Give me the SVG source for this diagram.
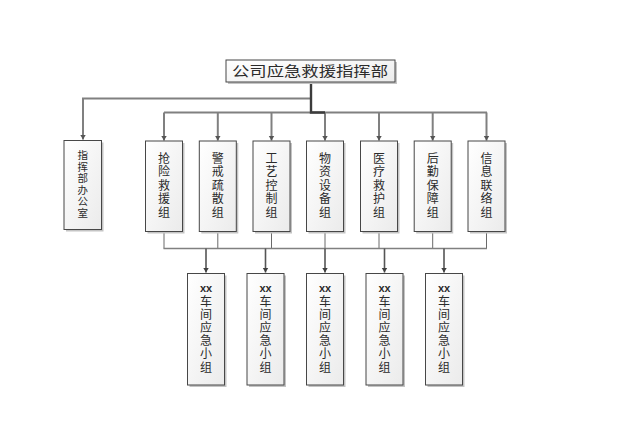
<svg xmlns="http://www.w3.org/2000/svg" width="626" height="422" viewBox="0 0 626 422">
<defs>
<linearGradient id="fillg" x1="0" y1="0" x2="1" y2="1">
<stop offset="0" stop-color="#ffffff"/>
<stop offset="1" stop-color="#ebebeb"/>
</linearGradient>
<marker id="arr" markerUnits="userSpaceOnUse" markerWidth="6" markerHeight="7" refX="5" refY="3" orient="auto">
<path d="M0,0 L5,3 L0,6 z" fill="#404040"/>
</marker>
<marker id="arrg" markerUnits="userSpaceOnUse" markerWidth="6" markerHeight="7" refX="5" refY="3" orient="auto">
<path d="M0,0 L5,3 L0,6 z" fill="#555555"/>
</marker>
</defs>
<style>
.sh{fill:#c4c4c4;}
.bx{fill:url(#fillg);stroke:#474747;stroke-width:1;}
.t{font-family:"Liberation Sans","Noto Sans CJK SC","Noto Sans CJK JP",sans-serif;fill:#2b2b2b;text-anchor:middle;}
.g{font-size:12px;}
.o{font-size:10.5px;}
.xx{font-family:"Liberation Sans",Arial,sans-serif;font-weight:bold;font-size:11px;fill:#2b2b2b;text-anchor:middle;}
.ln{fill:none;stroke:#808080;stroke-width:2;}
.lt{fill:none;stroke:#6a6a6a;stroke-width:1;}
.la{fill:none;stroke:#555555;stroke-width:1.6;}
.tk{fill:none;stroke:#3c3c3c;stroke-width:2.4;}
</style>
<rect width="626" height="422" fill="#ffffff"/>

<g id="connectors">
<path class="ln" d="M311,98.5 H83 V139.5" marker-end="url(#arrg)"/>
<path class="ln" d="M164,112.5 H487"/>
<path class="ln" d="M164,112.5 V140.5" marker-end="url(#arrg)"/>
<path class="ln" d="M217.8,112.5 V140.5" marker-end="url(#arrg)"/>
<path class="ln" d="M271.5,112.5 V140.5" marker-end="url(#arrg)"/>
<path class="ln" d="M325,112.5 V140.5" marker-end="url(#arrg)"/>
<path class="ln" d="M379,112.5 V140.5" marker-end="url(#arrg)"/>
<path class="ln" d="M432.7,112.5 V140.5" marker-end="url(#arrg)"/>
<path class="ln" d="M486.5,112.5 V140.5" marker-end="url(#arrg)"/>
<path class="tk" d="M311,82 V112.5 H325"/>
<path class="lt" d="M164,231.5 V248.5 M217.8,231.5 V248.5 M271.5,231.5 V248.5 M325,231.5 V248.5 M379,231.5 V248.5 M432.7,231.5 V248.5 M486.5,231.5 V248.5"/>
<path class="ln" d="M163.5,248.5 H487" style="stroke-width:1.5"/>
<path class="la" d="M206,248.5 V272.5" marker-end="url(#arr)"/>
<path class="la" d="M265.5,248.5 V272.5" marker-end="url(#arr)"/>
<path class="la" d="M325,248.5 V272.5" marker-end="url(#arr)"/>
<path class="la" d="M384.5,248.5 V272.5" marker-end="url(#arr)"/>
<path class="la" d="M444,248.5 V272.5" marker-end="url(#arr)"/>
</g>

<g id="top">
<rect class="sh" x="228" y="62" width="169" height="22"/>
<rect class="bx" x="226" y="60" width="169" height="22"/>
<text class="t" x="232" y="76" style="font-size:14px;text-anchor:start" textLength="156" lengthAdjust="spacingAndGlyphs">公司应急救援指挥部</text>
</g>

<g id="office">
<rect class="sh" x="66" y="142.5" width="37.5" height="89"/>
<rect class="bx" x="64" y="140.5" width="37.5" height="89"/>
<text class="t o"><tspan x="82.8" y="159">指</tspan><tspan x="82.8" y="170.5">挥</tspan><tspan x="82.8" y="182">部</tspan><tspan x="82.8" y="193.5">办</tspan><tspan x="82.8" y="205">公</tspan><tspan x="82.8" y="216.5">室</tspan></text>
</g>

<g id="g1">
<rect class="sh" x="147.5" y="143" width="37" height="90.5"/>
<rect class="bx" x="145.5" y="141" width="37" height="90.5"/>
<text class="t g"><tspan x="164" y="162.8">抢</tspan><tspan x="164" y="176.3">险</tspan><tspan x="164" y="189.8">救</tspan><tspan x="164" y="203.3">援</tspan><tspan x="164" y="216.8">组</tspan></text>
</g>
<g id="g2">
<rect class="sh" x="201.3" y="143" width="37" height="90.5"/>
<rect class="bx" x="199.3" y="141" width="37" height="90.5"/>
<text class="t g"><tspan x="217.8" y="162.8">警</tspan><tspan x="217.8" y="176.3">戒</tspan><tspan x="217.8" y="189.8">疏</tspan><tspan x="217.8" y="203.3">散</tspan><tspan x="217.8" y="216.8">组</tspan></text>
</g>
<g id="g3">
<rect class="sh" x="255" y="143" width="37" height="90.5"/>
<rect class="bx" x="253" y="141" width="37" height="90.5"/>
<text class="t g"><tspan x="271.5" y="162.8">工</tspan><tspan x="271.5" y="176.3">艺</tspan><tspan x="271.5" y="189.8">控</tspan><tspan x="271.5" y="203.3">制</tspan><tspan x="271.5" y="216.8">组</tspan></text>
</g>
<g id="g4">
<rect class="sh" x="308.5" y="143" width="37" height="90.5"/>
<rect class="bx" x="306.5" y="141" width="37" height="90.5"/>
<text class="t g"><tspan x="325" y="162.8">物</tspan><tspan x="325" y="176.3">资</tspan><tspan x="325" y="189.8">设</tspan><tspan x="325" y="203.3">备</tspan><tspan x="325" y="216.8">组</tspan></text>
</g>
<g id="g5">
<rect class="sh" x="362.5" y="143" width="37" height="90.5"/>
<rect class="bx" x="360.5" y="141" width="37" height="90.5"/>
<text class="t g"><tspan x="379" y="162.8">医</tspan><tspan x="379" y="176.3">疗</tspan><tspan x="379" y="189.8">救</tspan><tspan x="379" y="203.3">护</tspan><tspan x="379" y="216.8">组</tspan></text>
</g>
<g id="g6">
<rect class="sh" x="416.2" y="143" width="37" height="90.5"/>
<rect class="bx" x="414.2" y="141" width="37" height="90.5"/>
<text class="t g"><tspan x="432.7" y="162.8">后</tspan><tspan x="432.7" y="176.3">勤</tspan><tspan x="432.7" y="189.8">保</tspan><tspan x="432.7" y="203.3">障</tspan><tspan x="432.7" y="216.8">组</tspan></text>
</g>
<g id="g7">
<rect class="sh" x="470" y="143" width="37" height="90.5"/>
<rect class="bx" x="468" y="141" width="37" height="90.5"/>
<text class="t g"><tspan x="486.5" y="162.8">信</tspan><tspan x="486.5" y="176.3">息</tspan><tspan x="486.5" y="189.8">联</tspan><tspan x="486.5" y="203.3">络</tspan><tspan x="486.5" y="216.8">组</tspan></text>
</g>

<g id="w1">
<rect class="sh" x="189.5" y="275.5" width="37" height="111.5"/>
<rect class="bx" x="187.5" y="273.5" width="37" height="111.5"/>
<text class="xx" x="206" y="291.6">xx</text>
<text class="t g"><tspan x="206" y="305.8">车</tspan><tspan x="206" y="318.9">间</tspan><tspan x="206" y="332.1">应</tspan><tspan x="206" y="345.2">急</tspan><tspan x="206" y="358.4">小</tspan><tspan x="206" y="371.5">组</tspan></text>
</g>
<g id="w2">
<rect class="sh" x="249" y="275.5" width="37" height="111.5"/>
<rect class="bx" x="247" y="273.5" width="37" height="111.5"/>
<text class="xx" x="265.5" y="291.6">xx</text>
<text class="t g"><tspan x="265.5" y="305.8">车</tspan><tspan x="265.5" y="318.9">间</tspan><tspan x="265.5" y="332.1">应</tspan><tspan x="265.5" y="345.2">急</tspan><tspan x="265.5" y="358.4">小</tspan><tspan x="265.5" y="371.5">组</tspan></text>
</g>
<g id="w3">
<rect class="sh" x="308.5" y="275.5" width="37" height="111.5"/>
<rect class="bx" x="306.5" y="273.5" width="37" height="111.5"/>
<text class="xx" x="325" y="291.6">xx</text>
<text class="t g"><tspan x="325" y="305.8">车</tspan><tspan x="325" y="318.9">间</tspan><tspan x="325" y="332.1">应</tspan><tspan x="325" y="345.2">急</tspan><tspan x="325" y="358.4">小</tspan><tspan x="325" y="371.5">组</tspan></text>
</g>
<g id="w4">
<rect class="sh" x="368" y="275.5" width="37" height="111.5"/>
<rect class="bx" x="366" y="273.5" width="37" height="111.5"/>
<text class="xx" x="384.5" y="291.6">xx</text>
<text class="t g"><tspan x="384.5" y="305.8">车</tspan><tspan x="384.5" y="318.9">间</tspan><tspan x="384.5" y="332.1">应</tspan><tspan x="384.5" y="345.2">急</tspan><tspan x="384.5" y="358.4">小</tspan><tspan x="384.5" y="371.5">组</tspan></text>
</g>
<g id="w5">
<rect class="sh" x="427.5" y="275.5" width="37" height="111.5"/>
<rect class="bx" x="425.5" y="273.5" width="37" height="111.5"/>
<text class="xx" x="444" y="291.6">xx</text>
<text class="t g"><tspan x="444" y="305.8">车</tspan><tspan x="444" y="318.9">间</tspan><tspan x="444" y="332.1">应</tspan><tspan x="444" y="345.2">急</tspan><tspan x="444" y="358.4">小</tspan><tspan x="444" y="371.5">组</tspan></text>
</g>
</svg>
